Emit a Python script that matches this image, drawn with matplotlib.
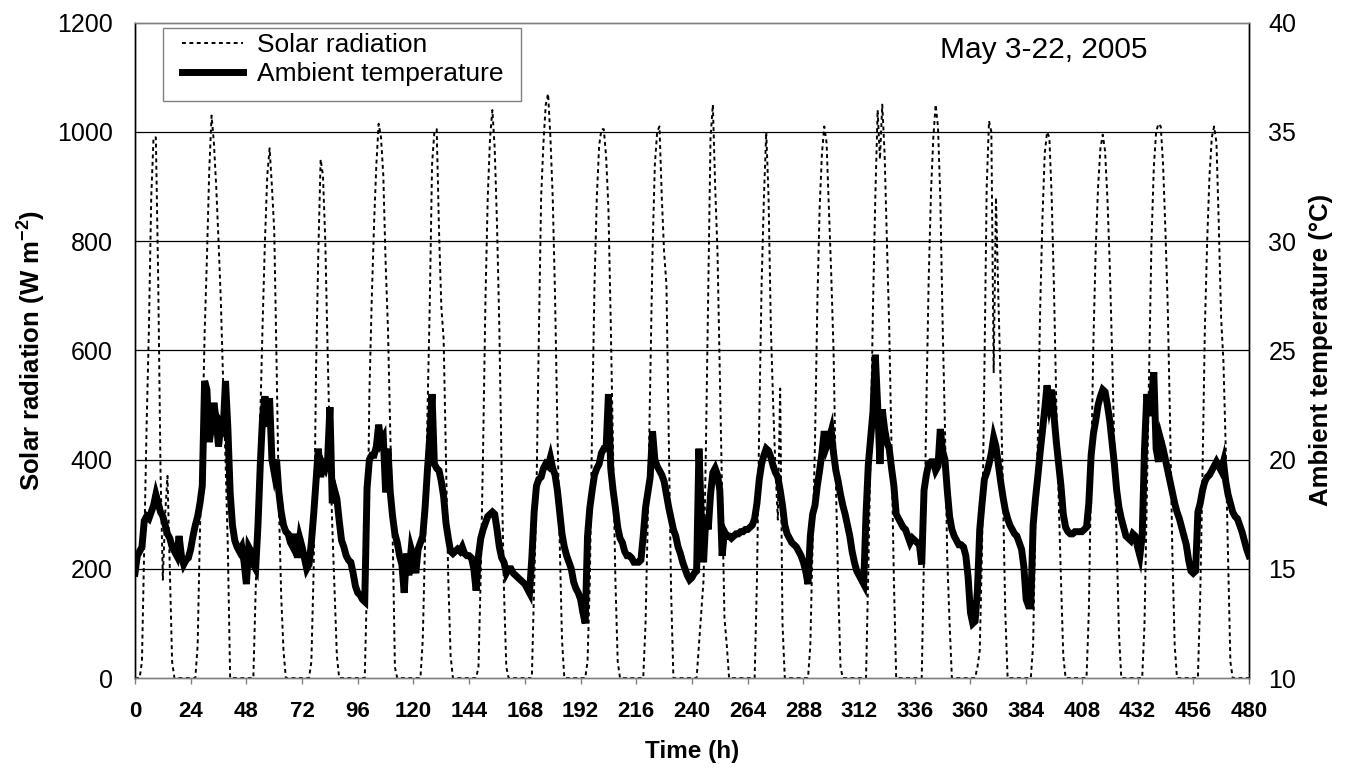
import matplotlib
matplotlib.use("Agg")
import matplotlib.pyplot as plt
from matplotlib.patches import Rectangle
import numpy as np

plt.rcParams['font.family'] = ['Liberation Sans', 'DejaVu Sans']
plt.rcParams['mathtext.fontset'] = 'custom'
plt.rcParams['mathtext.rm'] = 'Liberation Sans'
plt.rcParams['mathtext.bf'] = 'Liberation Sans:bold'

# ---------------- data (hourly, h = 24*day + k) ----------------
x_ticks = list(range(0, 481, 24))
solar_ticks = [0, 200, 400, 600, 800, 1000, 1200]
temp_ticks = [10, 15, 20, 25, 30, 35, 40]

solar_d00 = [0, 0, 0, 30, 240, 460, 640, 880, 990, 990, 730, 380, 180, 300, 370, 200, 30, 0, 0, 0, 0, 0, 0, 0]
solar_d01 = [0, 0, 0, 60, 270, 430, 630, 770, 930, 1030, 980, 900, 800, 690, 540, 400, 240, 0, 0, 0, 0, 0, 0, 0]
solar_d02 = [0, 0, 0, 0, 160, 320, 480, 650, 800, 920, 970, 900, 820, 580, 320, 150, 50, 0, 0, 0, 0, 0, 0, 0]
solar_d03 = [0, 0, 0, 0, 30, 200, 560, 780, 950, 920, 800, 600, 420, 280, 160, 40, 0, 0, 0, 0, 0, 0, 0, 0]
solar_d04 = [0, 0, 0, 0, 180, 520, 690, 830, 940, 1015, 990, 920, 760, 640, 450, 270, 20, 0, 0, 0, 0, 0, 0, 0]
solar_d05 = [0, 0, 0, 0, 70, 250, 480, 680, 940, 1000, 1005, 820, 680, 620, 400, 180, 40, 0, 0, 0, 0, 0, 0, 0]
solar_d06 = [0, 0, 0, 0, 20, 190, 420, 690, 880, 990, 1040, 970, 830, 640, 380, 160, 20, 0, 0, 0, 0, 0, 0, 0]
solar_d07 = [0, 0, 0, 0, 170, 340, 620, 880, 980, 1050, 1070, 990, 880, 700, 460, 250, 70, 0, 0, 0, 0, 0, 0, 0]
solar_d08 = [0, 0, 0, 30, 180, 470, 720, 880, 975, 1005, 1005, 955, 860, 650, 420, 180, 30, 0, 0, 0, 0, 0, 0, 0]
solar_d09 = [0, 0, 0, 0, 100, 300, 540, 780, 940, 1000, 1010, 880, 780, 720, 440, 160, 0, 0, 0, 0, 0, 0, 0, 0]
solar_d10 = [0, 0, 0, 60, 120, 180, 420, 700, 990, 1050, 900, 780, 560, 330, 110, 60, 0, 0, 0, 0, 0, 0, 0, 0]
solar_d11 = [0, 0, 0, 0, 180, 470, 720, 880, 1000, 880, 640, 500, 380, 290, 530, 100, 0, 0, 0, 0, 0, 0, 0, 0]
solar_d12 = [0, 0, 0, 60, 250, 430, 680, 860, 960, 1010, 980, 860, 740, 600, 360, 170, 20, 0, 0, 0, 0, 0, 0, 0]
solar_d13 = [0, 0, 0, 0, 200, 430, 680, 880, 1040, 950, 1050, 960, 800, 640, 420, 180, 0, 0, 0, 0, 0, 0, 0, 0]
solar_d14 = [0, 0, 0, 0, 230, 500, 730, 890, 990, 1050, 1010, 880, 650, 460, 220, 100, 0, 0, 0, 0, 0, 0, 0, 0]
solar_d15 = [0, 0, 0, 20, 50, 240, 560, 900, 1020, 1000, 560, 880, 700, 540, 340, 120, 0, 0, 0, 0, 0, 0, 0, 0]
solar_d16 = [0, 0, 0, 60, 300, 430, 670, 840, 960, 1000, 990, 880, 710, 500, 330, 180, 40, 0, 0, 0, 0, 0, 0, 0]
solar_d17 = [0, 0, 0, 120, 380, 620, 790, 900, 970, 995, 965, 880, 760, 600, 420, 250, 80, 0, 0, 0, 0, 0, 0, 0]
solar_d18 = [0, 0, 0, 100, 330, 560, 800, 935, 1000, 1015, 1010, 940, 820, 680, 470, 230, 60, 0, 0, 0, 0, 0, 0, 0]
solar_d19 = [0, 0, 0, 150, 380, 640, 800, 920, 990, 1010, 980, 830, 660, 580, 420, 220, 30, 0, 0, 0, 0, 0, 0, 0]
solar_end = [0]

temp_d00 = [14.8, 15.6, 15.8, 16.0, 17.2, 17.4, 17.3, 17.6, 17.9, 18.4, 18.0, 17.6, 17.4, 17.0, 16.6, 16.4, 16.0, 15.8, 15.6, 16.5, 15.6, 15.2, 15.4, 15.5]
temp_d01 = [15.9, 16.5, 17.0, 17.4, 18.0, 18.8, 23.6, 23.2, 20.8, 21.5, 22.6, 21.8, 20.6, 21.6, 21.4, 23.6, 21.5, 18.5, 17.0, 16.3, 16.0, 15.8, 16.0, 15.3]
temp_d02 = [14.3, 16.0, 15.8, 15.2, 15.0, 17.0, 19.8, 22.0, 22.9, 21.5, 22.8, 20.0, 19.4, 20.0, 18.5, 17.6, 17.0, 16.7, 16.6, 16.2, 16.0, 16.6, 15.5, 16.4]
temp_d03 = [16.0, 15.5, 15.0, 15.2, 16.2, 17.5, 19.0, 20.5, 19.2, 19.8, 19.6, 20.0, 22.4, 18.0, 18.6, 18.2, 17.2, 16.3, 16.0, 15.6, 15.4, 15.3, 14.8, 14.2]
temp_d04 = [13.9, 13.8, 13.6, 13.5, 18.7, 20.0, 20.2, 20.2, 20.6, 21.6, 20.8, 21.0, 18.5, 20.5, 18.5, 17.4, 16.6, 16.2, 15.6, 15.2, 13.9, 15.7, 14.7, 15.9]
temp_d05 = [15.5, 14.8, 15.9, 16.2, 16.5, 17.8, 19.5, 21.0, 23.0, 19.8, 19.6, 19.5, 19.0, 18.3, 17.1, 16.4, 15.8, 15.7, 15.8, 15.9, 15.8, 16.0, 15.7, 15.6]
temp_d06 = [15.6, 15.5, 15.0, 14.0, 15.6, 16.4, 16.8, 17.1, 17.4, 17.5, 17.6, 17.5, 16.8, 16.0, 15.5, 15.3, 14.8, 15.0, 15.0, 14.8, 14.7, 14.6, 14.5, 14.4]
temp_d07 = [14.3, 14.1, 13.9, 15.5, 17.6, 18.8, 19.1, 19.2, 19.6, 19.8, 19.7, 20.1, 19.6, 19.3, 18.6, 17.6, 16.6, 16.0, 15.6, 15.3, 15.0, 14.4, 14.1, 13.9]
temp_d08 = [13.6, 13.0, 12.5, 16.5, 17.8, 18.6, 19.3, 19.6, 19.8, 20.3, 20.5, 20.5, 23.0, 19.6, 18.6, 17.8, 16.9, 16.4, 16.2, 15.8, 15.6, 15.6, 15.5, 15.3]
temp_d09 = [15.3, 15.3, 15.4, 16.5, 17.8, 18.5, 19.2, 21.3, 20.0, 19.7, 19.5, 19.3, 19.0, 18.4, 17.8, 17.3, 16.8, 16.5, 16.0, 15.7, 15.3, 15.0, 14.7, 14.5]
temp_d10 = [14.6, 14.8, 14.9, 20.5, 17.5, 15.3, 17.4, 16.8, 18.4, 19.4, 19.6, 19.3, 18.6, 15.6, 16.7, 16.5, 16.5, 16.4, 16.5, 16.6, 16.6, 16.7, 16.7, 16.8]
temp_d11 = [16.8, 16.9, 17.0, 17.3, 18.0, 19.1, 19.8, 20.2, 20.5, 20.4, 20.1, 19.7, 19.4, 19.2, 18.6, 17.9, 17.0, 16.6, 16.4, 16.2, 16.1, 16.0, 15.8, 15.6]
temp_d12 = [15.3, 14.9, 14.3, 16.5, 17.5, 17.9, 18.8, 19.5, 20.3, 21.3, 20.6, 20.9, 21.3, 20.3, 19.5, 19.0, 18.4, 17.9, 17.5, 17.0, 16.5, 15.8, 15.3, 14.9]
temp_d13 = [14.7, 14.5, 14.3, 17.5, 19.8, 21.0, 22.2, 24.8, 22.5, 19.8, 22.3, 21.4, 20.8, 20.5, 19.6, 18.8, 17.5, 17.3, 17.1, 16.9, 16.8, 16.5, 16.2, 16.4]
temp_d14 = [16.3, 16.2, 16.1, 15.2, 18.6, 19.3, 19.8, 19.9, 19.9, 19.5, 19.7, 21.4, 20.4, 20.0, 18.6, 17.4, 16.8, 16.5, 16.3, 16.1, 16.1, 16.0, 15.6, 14.6]
temp_d15 = [13.0, 12.5, 12.6, 14.0, 16.8, 18.0, 19.1, 19.4, 19.8, 20.3, 21.0, 20.6, 19.8, 19.0, 18.3, 17.7, 17.3, 17.0, 16.8, 16.6, 16.5, 16.2, 15.9, 15.1]
temp_d16 = [13.6, 13.3, 13.3, 17.0, 18.2, 19.2, 20.3, 21.3, 22.3, 23.4, 22.6, 23.2, 22.0, 20.8, 19.8, 18.8, 17.5, 16.9, 16.7, 16.6, 16.6, 16.7, 16.7, 16.7]
temp_d17 = [16.7, 16.8, 16.9, 18.0, 20.2, 21.2, 21.8, 22.5, 22.9, 23.2, 23.1, 22.5, 21.8, 20.8, 19.8, 18.6, 17.8, 17.3, 16.9, 16.5, 16.4, 16.3, 16.6, 16.5]
temp_d18 = [16.0, 15.6, 16.5, 20.5, 23.0, 22.0, 22.8, 24.0, 20.5, 19.9, 20.9, 20.5, 20.0, 19.5, 19.0, 18.5, 18.0, 17.6, 17.3, 16.9, 16.5, 16.1, 15.4, 14.9]
temp_d19 = [14.8, 14.9, 17.6, 18.0, 18.6, 19.0, 19.2, 19.3, 19.5, 19.7, 19.9, 19.7, 19.5, 19.9, 19.0, 18.4, 18.0, 17.6, 17.4, 17.3, 17.0, 16.7, 16.3, 15.9]
temp_end = [15.6]

solar = np.array(solar_d00 + solar_d01 + solar_d02 + solar_d03 + solar_d04 + solar_d05 + solar_d06
                 + solar_d07 + solar_d08 + solar_d09 + solar_d10 + solar_d11 + solar_d12 + solar_d13
                 + solar_d14 + solar_d15 + solar_d16 + solar_d17 + solar_d18 + solar_d19 + solar_end, float)
temp = np.array(temp_d00 + temp_d01 + temp_d02 + temp_d03 + temp_d04 + temp_d05 + temp_d06
                + temp_d07 + temp_d08 + temp_d09 + temp_d10 + temp_d11 + temp_d12 + temp_d13
                + temp_d14 + temp_d15 + temp_d16 + temp_d17 + temp_d18 + temp_d19 + temp_end, float)
hours = np.arange(len(solar))

# ---------------- figure ----------------
fig = plt.figure(figsize=(13.58, 7.78), dpi=100)
ax = fig.add_axes([0.0994, 0.1285, 0.8203, 0.8423])
ax2 = ax.twinx()

for v in solar_ticks[1:-1]:
    ax.axhline(v, color='black', lw=0.9, zorder=0.5)

l1, = ax.plot(hours, solar, color='black', lw=1.4, ls=(0, (2.0, 1.8)),
              label='Solar radiation', zorder=2)
l2, = ax2.plot(hours, temp, color='black', lw=5.0, label='Ambient temperature',
               solid_joinstyle='miter', zorder=3)

ax.set_xlim(0, 480)
ax.set_ylim(0, 1200)
ax2.set_ylim(10, 40)
ax.set_xticks(x_ticks)
ax.set_yticks(solar_ticks)
ax2.set_yticks(temp_ticks)

gray = '#808080'
for a in (ax, ax2):
    a.spines['top'].set_color(gray)
    a.spines['bottom'].set_color(gray)
    a.spines['left'].set_color('black')
    a.spines['right'].set_color('black')
    for s in a.spines.values():
        s.set_linewidth(1.0)

ax.tick_params(axis='x', direction='out', length=4.5, width=1.0, color=gray,
               labelsize=16, pad=12)
for lab in ax.get_xticklabels():
    lab.set_fontweight('bold')
ax.tick_params(axis='y', length=0, labelsize=18, pad=16)
ax2.tick_params(axis='y', length=0, labelsize=18, pad=14)

ax.set_xlabel('Time (h)', fontsize=17.5, fontweight='bold', labelpad=13)
ax.set_ylabel(r'Solar radiation (W m$^{\mathbf{-2}}$)', fontsize=18.5,
              fontweight='bold', labelpad=7)
ax2.set_ylabel('Ambient temperature (°C)', fontsize=18.5, fontweight='bold',
               labelpad=9)

ax.text(0.7226, 0.958, 'May 3-22, 2005', transform=ax.transAxes, fontsize=21.5,
        ha='left', va='center')

# legend: box drawn as a fixed rectangle, entries placed inside it
box = Rectangle((0.0251, 0.8805), 0.3214, 0.1114, transform=ax2.transAxes,
                facecolor='white', edgecolor=gray, linewidth=1.0, zorder=4.5)
ax2.add_patch(box)
leg = ax2.legend(handles=[l1, l2], loc='upper left', bbox_to_anchor=(0.0422, 0.984),
                 fontsize=19, frameon=False, handlelength=2.3, handletextpad=0.55,
                 borderpad=0.0, labelspacing=0.2, borderaxespad=0)
leg.set_zorder(5)

fig.savefig('out.png', dpi=100)
